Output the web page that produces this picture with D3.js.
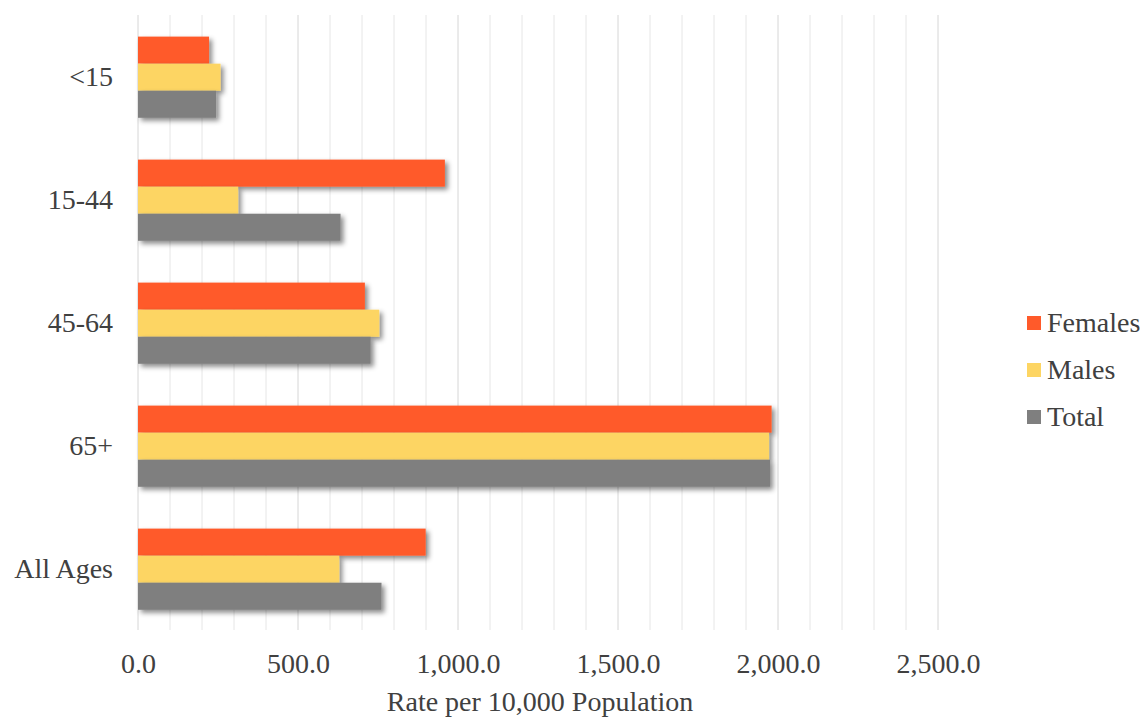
<!DOCTYPE html>
<html>
<head>
<meta charset="utf-8">
<script src="https://cdn.jsdelivr.net/npm/d3@7"></script>
<style>
  html, body { margin: 0; padding: 0; background: #ffffff; }
  svg { display: block; }
  svg text { font-family: "Liberation Serif", "Times New Roman", Times, "DejaVu Serif", serif; }
</style>
</head>
<body>
<svg id="chart" width="1147" height="720"></svg>
<script>
const categories = ["<15", "15-44", "45-64", "65+", "All Ages"];
const seriesNames = ["Females", "Males", "Total"];
const females = [222, 959, 709, 1980, 899];
const males = [258, 313, 754, 1972, 629];
const total = [244, 633, 727, 1975, 761];
const xTicks = [0, 500, 1000, 1500, 2000, 2500];
const gridValues = d3.range(0, 2501, 100);
const colors = ["#FF5A2A", "#FDD563", "#7F7F7F"];

const seriesValues = [females, males, total];
const rows = categories.map((c, i) => ({
  category: c,
  values: seriesNames.map((s, j) => ({ series: s, value: seriesValues[j][i] }))
}));

const svg = d3.select("#chart");
const fontFamily = '"Liberation Serif", "Times New Roman", Times, "DejaVu Serif", serif';

const x = d3.scaleLinear().domain([0, 2500]).range([138, 938]);
const y = d3.scaleBand().domain(categories).range([15.7, 630.7])
  .paddingInner(0.34).paddingOuter(0.17);
const ySub = d3.scaleBand().domain(seriesNames).range([0, y.bandwidth()]);
const color = d3.scaleOrdinal().domain(seriesNames).range(colors);

// drop shadow filter
const defs = svg.append("defs");
const f = defs.append("filter").attr("id", "shadow")
  .attr("x", "-10%").attr("y", "-30%").attr("width", "130%").attr("height", "180%");
f.append("feDropShadow").attr("dx", 3).attr("dy", 3).attr("stdDeviation", 2.5)
  .attr("flood-color", "#000").attr("flood-opacity", 0.45);

// gridlines
svg.append("g").selectAll("line").data(gridValues).join("line")
  .attr("x1", d => x(d)).attr("x2", d => x(d))
  .attr("y1", 15).attr("y2", 630)
  .attr("stroke", d => d % 500 === 0 ? "#d6d6d6" : "#e6e6e6")
  .attr("stroke-width", 1);

// bars
const groups = svg.append("g").selectAll("g").data(rows).join("g")
  .attr("transform", d => `translate(0,${y(d.category)})`);
groups.selectAll("rect").data(d => d.values).join("rect")
  .attr("x", x(0))
  .attr("y", d => ySub(d.series))
  .attr("width", d => x(d.value) - x(0))
  .attr("height", ySub.bandwidth())
  .attr("fill", d => color(d.series))
  .attr("filter", "url(#shadow)");

// x axis
const xAxis = d3.axisBottom(x).tickValues(xTicks).tickSize(0)
  .tickFormat(d3.format(",.1f"));
const gx = svg.append("g").attr("transform", "translate(0,630)").call(xAxis);
gx.attr("font-family", null);
gx.select(".domain").remove();
gx.selectAll("text").style("font-family", fontFamily).style("font-size", "28px")
  .attr("fill", "#404040").attr("dy", null).attr("y", 43);

// y axis
const yAxis = d3.axisLeft(y).tickSize(0);
const gy = svg.append("g").attr("transform", "translate(113,0)").call(yAxis);
gy.attr("font-family", null);
gy.select(".domain").remove();
gy.selectAll("text").style("font-family", fontFamily).style("font-size", "28px")
  .attr("fill", "#404040").attr("x", 0).attr("dy", "0.32em");

// axis title
svg.append("text").attr("x", 540).attr("y", 711).attr("text-anchor", "middle")
  .style("font-family", fontFamily).style("font-size", "28px").attr("fill", "#404040")
  .text("Rate per 10,000 Population");

// legend
const legend = svg.append("g").selectAll("g").data(seriesNames).join("g")
  .attr("transform", (d, i) => `translate(1027,${323 + i * 47})`);
legend.append("rect").attr("x", 0).attr("y", -7).attr("width", 14).attr("height", 14)
  .attr("fill", d => color(d));
legend.append("text").attr("x", 20).attr("y", 0).attr("dy", "0.33em")
  .style("font-family", fontFamily).style("font-size", "28px").attr("fill", "#404040")
  .text(d => d);
</script>
</body>
</html>
